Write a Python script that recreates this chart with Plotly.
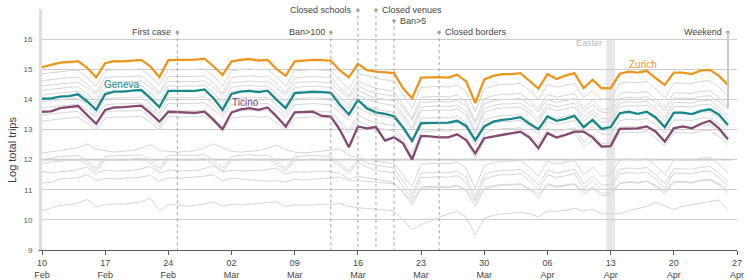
import plotly.graph_objects as go
import pandas as pd

# ---------------- data ----------------
start_date = "2020-02-10"
end_date = "2020-04-26"

zurich = [15.07, 15.15, 15.22, 15.24, 15.27, 15.05, 14.73,
          15.20, 15.27, 15.26, 15.28, 15.31, 15.10, 14.74,
          15.30, 15.31, 15.30, 15.32, 15.35, 15.10, 14.81,
          15.26, 15.31, 15.34, 15.29, 15.31, 15.00, 14.78,
          15.26, 15.28, 15.31, 15.30, 15.29, 14.96, 14.73,
          15.18, 14.97, 14.92, 14.90, 14.87, 14.37, 14.04,
          14.72, 14.74, 14.74, 14.72, 14.82, 14.59, 13.88,
          14.66, 14.78, 14.84, 14.84, 14.87, 14.61, 14.36,
          14.84, 14.68, 14.79, 14.87, 14.37, 14.65, 14.37,
          14.37, 14.85, 14.92, 14.89, 14.95, 14.70, 14.48,
          14.89, 14.89, 14.84, 14.96, 14.98, 14.78, 14.48]

geneva = [14.02, 14.03, 14.09, 14.11, 14.17, 13.93, 13.65,
          14.17, 14.26, 14.26, 14.29, 14.31, 14.04, 13.74,
          14.28, 14.28, 14.26, 14.28, 14.33, 14.04, 13.65,
          14.18, 14.26, 14.28, 14.24, 14.29, 13.98, 13.71,
          14.21, 14.23, 14.25, 14.24, 14.22, 13.82, 13.50,
          13.98, 13.70, 13.57, 13.52, 13.44, 13.07, 12.62,
          13.21, 13.22, 13.23, 13.23, 13.29, 13.12, 12.65,
          13.10, 13.26, 13.32, 13.35, 13.41, 13.19, 13.01,
          13.43, 13.29, 13.35, 13.45, 13.08, 13.32, 13.02,
          13.08, 13.54, 13.59, 13.52, 13.59, 13.40, 13.08,
          13.56, 13.56, 13.51, 13.62, 13.67, 13.49, 13.15]

ticino = [13.59, 13.60, 13.71, 13.74, 13.78, 13.48, 13.19,
          13.65, 13.73, 13.74, 13.76, 13.79, 13.54, 13.26,
          13.59, 13.58, 13.55, 13.55, 13.59, 13.32, 13.01,
          13.57, 13.67, 13.71, 13.65, 13.73, 13.43, 13.10,
          13.57, 13.59, 13.59, 13.45, 13.43, 12.99, 12.41,
          13.10, 13.04, 13.08, 12.63, 12.74, 12.54, 12.00,
          12.79, 12.77, 12.74, 12.74, 12.84, 12.65, 12.21,
          12.71, 12.76, 12.82, 12.88, 12.93, 12.74, 12.38,
          12.88, 12.73, 12.82, 12.93, 12.93, 12.74, 12.43,
          12.45, 13.02, 13.02, 13.04, 13.10, 12.93, 12.60,
          13.04, 13.10, 13.04, 13.19, 13.29, 13.04, 12.68]

other_u1 = [14.85, 14.89, 14.93, 14.95, 14.97, 14.73, 14.45,
            14.95, 14.98, 14.98, 14.99, 15.01, 14.77, 14.47,
            14.99, 14.99, 14.98, 14.99, 15.02, 14.77, 14.43,
            14.95, 14.99, 15.01, 14.98, 15.00, 14.75, 14.45,
            14.95, 14.97, 14.99, 14.97, 14.95, 14.63, 14.35,
            14.85, 14.80, 14.70, 14.65, 14.60, 14.15, 13.70,
            14.40, 14.42, 14.43, 14.41, 14.47, 14.25, 13.60,
            14.35, 14.45, 14.50, 14.50, 14.53, 14.30, 14.00,
            14.50, 14.40, 14.47, 14.53, 14.05, 14.30, 14.00,
            14.03, 14.53, 14.57, 14.55, 14.59, 14.35, 14.05,
            14.55, 14.55, 14.53, 14.60, 14.62, 14.40, 14.10]

other_u2 = [14.62, 14.66, 14.70, 14.72, 14.74, 14.50, 14.22,
            14.72, 14.75, 14.75, 14.76, 14.78, 14.54, 14.24,
            14.76, 14.76, 14.75, 14.76, 14.79, 14.54, 14.20,
            14.72, 14.76, 14.78, 14.75, 14.77, 14.52, 14.22,
            14.72, 14.74, 14.76, 14.74, 14.72, 14.40, 14.12,
            14.62, 14.47, 14.37, 14.32, 14.27, 13.82, 13.37,
            14.07, 14.09, 14.10, 14.08, 14.14, 13.92, 13.27,
            14.02, 14.12, 14.17, 14.17, 14.20, 13.97, 13.67,
            14.17, 14.07, 14.14, 14.20, 13.72, 13.97, 13.67,
            13.70, 14.20, 14.24, 14.22, 14.26, 14.02, 13.72,
            14.22, 14.22, 14.20, 14.27, 14.29, 14.07, 13.77]

other_u3 = [14.45, 14.48, 14.52, 14.55, 14.57, 14.38, 14.15,
            14.55, 14.58, 14.58, 14.59, 14.61, 14.40, 14.17,
            14.59, 14.59, 14.58, 14.59, 14.62, 14.40, 14.15,
            14.55, 14.59, 14.61, 14.58, 14.60, 14.38, 14.15,
            14.55, 14.57, 14.59, 14.57, 14.55, 14.28, 14.05,
            14.45, 14.30, 14.20, 14.15, 14.10, 13.70, 13.30,
            13.90, 13.92, 13.93, 13.91, 13.97, 13.78, 13.20,
            13.85, 13.95, 14.00, 14.00, 14.03, 13.83, 13.58,
            14.00, 13.90, 13.97, 14.03, 13.60, 13.82, 13.58,
            13.55, 14.03, 14.07, 14.05, 14.09, 13.88, 13.62,
            14.05, 14.05, 14.03, 14.10, 14.12, 13.93, 13.68]

other_u4 = [14.30, 14.34, 14.38, 14.40, 14.42, 14.18, 13.90,
            14.40, 14.43, 14.43, 14.44, 14.46, 14.22, 13.92,
            14.44, 14.44, 14.43, 14.44, 14.47, 14.22, 13.88,
            14.40, 14.44, 14.46, 14.43, 14.45, 14.20, 13.90,
            14.40, 14.42, 14.44, 14.42, 14.40, 14.08, 13.80,
            14.30, 14.15, 14.05, 14.00, 13.95, 13.50, 13.05,
            13.75, 13.77, 13.78, 13.76, 13.82, 13.60, 12.95,
            13.70, 13.80, 13.85, 13.85, 13.88, 13.65, 13.35,
            13.85, 13.75, 13.82, 13.88, 13.40, 13.65, 13.35,
            13.38, 13.88, 13.92, 13.90, 13.94, 13.70, 13.40,
            13.90, 13.90, 13.88, 13.95, 13.97, 13.75, 13.45]

other_u5 = [14.15, 14.18, 14.22, 14.25, 14.27, 14.05, 13.80,
            14.25, 14.28, 14.28, 14.29, 14.31, 14.08, 13.82,
            14.29, 14.29, 14.28, 14.29, 14.32, 14.08, 13.78,
            14.25, 14.29, 14.31, 14.28, 14.30, 14.06, 13.80,
            14.25, 14.27, 14.29, 14.27, 14.25, 13.95, 13.68,
            14.15, 14.00, 13.90, 13.85, 13.80, 13.38, 12.95,
            13.62, 13.64, 13.65, 13.63, 13.69, 13.48, 12.85,
            13.57, 13.67, 13.72, 13.72, 13.75, 13.53, 13.23,
            13.72, 13.62, 13.69, 13.75, 13.28, 13.52, 13.23,
            13.26, 13.75, 13.79, 13.77, 13.81, 13.58, 13.28,
            13.77, 13.77, 13.75, 13.82, 13.84, 13.62, 13.33]

other_m1 = [13.92, 13.96, 14.00, 14.02, 14.04, 13.80, 13.52,
            14.02, 14.05, 14.05, 14.06, 14.08, 13.84, 13.54,
            14.06, 14.06, 14.05, 14.06, 14.09, 13.84, 13.50,
            14.02, 14.06, 14.08, 14.05, 14.07, 13.82, 13.52,
            14.02, 14.04, 14.06, 14.04, 14.02, 13.70, 13.42,
            13.92, 13.77, 13.67, 13.62, 13.57, 13.12, 12.67,
            13.37, 13.39, 13.40, 13.38, 13.44, 13.22, 12.57,
            13.32, 13.42, 13.47, 13.47, 13.50, 13.27, 12.97,
            13.47, 13.37, 13.44, 13.50, 13.02, 13.27, 12.97,
            13.00, 13.50, 13.54, 13.52, 13.56, 13.32, 13.02,
            13.52, 13.52, 13.50, 13.57, 13.59, 13.37, 13.07]

other_m2 = [13.72, 13.75, 13.79, 13.82, 13.84, 13.65, 13.42,
            13.82, 13.85, 13.85, 13.86, 13.88, 13.67, 13.44,
            13.86, 13.86, 13.85, 13.86, 13.89, 13.67, 13.42,
            13.82, 13.86, 13.88, 13.85, 13.87, 13.65, 13.42,
            13.82, 13.84, 13.86, 13.84, 13.82, 13.55, 13.32,
            13.72, 13.57, 13.47, 13.42, 13.37, 12.97, 12.57,
            13.17, 13.19, 13.20, 13.18, 13.24, 13.05, 12.47,
            13.12, 13.22, 13.27, 13.27, 13.30, 13.10, 12.85,
            13.27, 13.17, 13.24, 13.30, 12.87, 13.09, 12.85,
            12.82, 13.30, 13.34, 13.32, 13.36, 13.15, 12.89,
            13.32, 13.32, 13.30, 13.37, 13.39, 13.20, 12.95]

other_m3 = [13.48, 13.52, 13.56, 13.58, 13.60, 13.36, 13.08,
            13.58, 13.61, 13.61, 13.62, 13.64, 13.40, 13.10,
            13.62, 13.62, 13.61, 13.62, 13.65, 13.40, 13.06,
            13.58, 13.62, 13.64, 13.61, 13.63, 13.38, 13.08,
            13.58, 13.60, 13.62, 13.60, 13.58, 13.26, 12.98,
            13.48, 13.33, 13.23, 13.18, 13.13, 12.68, 12.23,
            12.93, 12.95, 12.96, 12.94, 13.00, 12.78, 12.13,
            12.88, 12.98, 13.03, 13.03, 13.06, 12.83, 12.53,
            13.03, 12.93, 13.00, 13.06, 12.58, 12.83, 12.53,
            12.56, 13.06, 13.10, 13.08, 13.12, 12.88, 12.58,
            13.08, 13.08, 13.06, 13.13, 13.15, 12.93, 12.63]

other_m4 = [13.28, 13.32, 13.36, 13.38, 13.40, 13.22, 12.98,
            13.38, 13.41, 13.41, 13.42, 13.44, 13.25, 13.00,
            13.42, 13.42, 13.41, 13.42, 13.45, 13.25, 12.98,
            13.38, 13.42, 13.44, 13.41, 13.43, 13.22, 12.98,
            13.38, 13.40, 13.42, 13.40, 13.38, 13.12, 12.88,
            13.28, 13.15, 13.05, 13.00, 12.95, 12.55, 12.10,
            12.75, 12.77, 12.78, 12.76, 12.82, 12.62, 12.00,
            12.70, 12.80, 12.85, 12.85, 12.88, 12.68, 12.40,
            12.85, 12.75, 12.82, 12.88, 12.42, 12.65, 12.40,
            12.40, 12.88, 12.92, 12.90, 12.94, 12.72, 12.45,
            12.90, 12.90, 12.88, 12.95, 12.97, 12.77, 12.50]

other_l1 = [12.22, 12.25, 12.30, 12.35, 12.40, 12.52, 12.35,
            12.30, 12.25, 12.28, 12.30, 12.38, 12.50, 12.30,
            12.28, 12.25, 12.27, 12.30, 12.40, 12.52, 12.40,
            12.28, 12.25, 12.27, 12.30, 12.38, 12.48, 12.32,
            12.25, 12.22, 12.25, 12.28, 12.30, 12.35, 12.15,
            12.05, 12.00, 11.95, 11.90, 11.88, 11.50, 11.10,
            11.85, 11.87, 11.88, 11.86, 11.92, 11.70, 11.05,
            11.80, 11.90, 11.95, 11.95, 11.98, 11.75, 11.45,
            11.95, 11.85, 11.92, 11.98, 11.50, 11.75, 11.45,
            11.48, 11.98, 12.02, 12.00, 12.04, 11.80, 11.50,
            12.00, 12.00, 11.98, 12.05, 12.07, 11.85, 11.55]

other_l2 = [12.00, 12.05, 12.10, 12.12, 12.14, 11.95, 11.70,
            12.10, 12.13, 12.13, 12.14, 12.16, 11.98, 11.72,
            12.14, 12.14, 12.13, 12.14, 12.17, 11.98, 11.70,
            12.10, 12.14, 12.16, 12.13, 12.15, 11.95, 11.70,
            12.10, 12.12, 12.14, 12.12, 12.10, 11.88, 11.62,
            12.02, 11.90, 11.82, 11.78, 11.72, 11.30, 10.85,
            11.55, 11.57, 11.58, 11.56, 11.62, 11.40, 10.78,
            11.50, 11.60, 11.65, 11.65, 11.68, 11.45, 11.15,
            11.65, 11.55, 11.62, 11.68, 11.20, 11.45, 11.15,
            11.18, 11.68, 11.72, 11.70, 11.74, 11.50, 11.20,
            11.70, 11.70, 11.68, 11.75, 11.77, 11.55, 11.25]

other_l3 = [11.88, 11.92, 11.95, 11.98, 12.00, 11.85, 11.62,
            11.98, 12.00, 11.98, 12.02, 12.05, 11.88, 11.62,
            12.02, 12.00, 11.98, 12.00, 12.04, 11.86, 11.60,
            11.98, 12.00, 12.02, 12.00, 12.02, 11.85, 11.62,
            11.98, 12.00, 12.02, 12.00, 11.98, 11.78, 11.55,
            11.90, 11.75, 11.65, 11.60, 11.55, 11.10, 10.70,
            11.40, 11.42, 11.43, 11.41, 11.47, 11.25, 10.65,
            11.35, 11.45, 11.50, 11.50, 11.53, 11.30, 11.00,
            11.50, 11.40, 11.47, 11.53, 11.05, 11.30, 11.00,
            11.03, 11.53, 11.57, 11.55, 11.59, 11.35, 11.05,
            11.55, 11.55, 11.53, 11.60, 11.62, 11.40, 11.10]

other_l4 = [11.62, 11.55, 11.60, 11.62, 11.68, 11.75, 11.55,
            11.65, 11.62, 11.63, 11.64, 11.70, 11.78, 11.55,
            11.66, 11.62, 11.63, 11.64, 11.70, 11.80, 11.60,
            11.65, 11.62, 11.64, 11.63, 11.68, 11.72, 11.52,
            11.60, 11.58, 11.60, 11.62, 11.60, 11.55, 11.35,
            11.45, 11.40, 11.35, 11.30, 11.25, 10.90, 10.50,
            11.05, 11.07, 11.08, 11.06, 11.12, 10.95, 10.45,
            11.02, 11.10, 11.15, 11.15, 11.18, 11.00, 10.75,
            11.15, 11.08, 11.12, 11.18, 10.85, 11.05, 10.80,
            10.85, 11.20, 11.25, 11.22, 11.28, 11.10, 10.85,
            11.25, 11.25, 11.22, 11.30, 11.32, 11.15, 10.90]

other_l5 = [11.22, 11.25, 11.35, 11.38, 11.40, 11.50, 11.30,
            11.38, 11.36, 11.38, 11.40, 11.42, 11.48, 11.28,
            11.40, 11.38, 11.40, 11.42, 11.45, 11.50, 11.30,
            11.38, 11.35, 11.32, 11.30, 11.28, 11.30, 11.25,
            11.35, 11.32, 11.35, 11.38, 11.40, 11.42, 11.30,
            11.30, 11.28, 11.25, 11.22, 11.20, 10.95, 10.60,
            11.10, 11.12, 11.12, 11.10, 11.15, 11.00, 10.60,
            11.10, 11.15, 11.18, 11.18, 11.20, 11.05, 10.85,
            11.20, 11.12, 11.16, 11.20, 10.95, 11.10, 10.88,
            10.92, 11.22, 11.26, 11.24, 11.28, 11.15, 10.95,
            11.28, 11.28, 11.25, 11.32, 11.35, 11.20, 10.98]

other_l6 = [10.31, 10.40, 10.48, 10.50, 10.55, 10.68, 10.44,
            10.50, 10.53, 10.52, 10.55, 10.60, 10.72, 10.31,
            10.50, 10.50, 10.45, 10.48, 10.52, 10.60, 10.45,
            10.52, 10.50, 10.52, 10.55, 10.58, 10.60, 10.45,
            10.50, 10.48, 10.50, 10.52, 10.50, 10.55, 10.45,
            10.40, 10.38, 10.35, 10.33, 10.30, 10.00, 9.68,
            9.85, 9.95, 10.10, 10.20, 10.28, 10.10, 9.50,
            10.05, 10.15, 10.20, 10.22, 10.25, 10.20, 10.10,
            10.30, 10.28, 10.32, 10.38, 10.30, 10.35, 10.22,
            10.20, 10.20, 10.30, 10.38, 10.45, 10.57, 10.45,
            10.35, 10.45, 10.50, 10.55, 10.60, 10.66, 10.31]

event_labels = ["First case", "Ban>100", "Closed schools", "Closed venues",
                "Ban>5", "Closed borders", "Weekend"]
event_dates = ["2020-02-25", "2020-03-13", "2020-03-16", "2020-03-18",
               "2020-03-20", "2020-03-25", "2020-04-26"]

tick_dates = ["2020-02-10", "2020-02-17", "2020-02-24", "2020-03-02", "2020-03-09",
              "2020-03-16", "2020-03-23", "2020-03-30", "2020-04-06", "2020-04-13",
              "2020-04-20", "2020-04-27"]
tick_text = ["10<br>Feb", "17<br>Feb", "24<br>Feb", "02<br>Mar", "09<br>Mar",
             "16<br>Mar", "23<br>Mar", "30<br>Mar", "06<br>Apr", "13<br>Apr",
             "20<br>Apr", "27<br>Apr"]
y_ticks = [9, 10, 11, 12, 13, 14, 15, 16]

# ---------------- styling (positions of labels) ----------------
event_heights = [16.23, 16.23, 16.97, 16.97, 16.61, 16.23, 16.23]
event_sides = ["right", "right", "right", "left", "left", "left", "right"]

FONT = "Liberation Sans, Arial, Helvetica, sans-serif"
GREY_LINE = "rgb(214,214,214)"
C_ZH = "rgb(236,150,30)"
C_GE = "rgb(24,136,140)"
C_TI = "rgb(134,72,112)"

dates = pd.date_range(start_date, end_date, freq="D")

fig = go.Figure()

others = [other_u1, other_u2, other_u3, other_u4, other_u5,
          other_m1, other_m2, other_m3, other_m4,
          other_l1, other_l2, other_l3, other_l4, other_l5, other_l6]
for series in others:
    fig.add_trace(go.Scatter(x=dates, y=series, mode="lines",
                             line=dict(color=GREY_LINE, width=1),
                             hoverinfo="skip", showlegend=False))

for series, col, name in [(ticino, C_TI, "Ticino"), (geneva, C_GE, "Geneva"),
                          (zurich, C_ZH, "Zurich")]:
    fig.add_trace(go.Scatter(x=dates, y=series, mode="lines", name=name,
                             line=dict(color=col, width=2.3),
                             showlegend=False))

shapes = []
# Easter band
shapes.append(dict(type="rect", xref="x", yref="y",
                   x0="2020-04-12 12:00", x1="2020-04-13 12:00", y0=9, y1=16,
                   fillcolor="rgb(232,232,232)", line=dict(width=0), layer="below"))
# slightly heavier 12 line
shapes.append(dict(type="line", xref="paper", yref="y", x0=0, x1=0.993, y0=12, y1=12,
                   line=dict(color="rgb(226,226,226)", width=2.5), layer="below"))

annotations = []
for lab, d, h, side in zip(event_labels, event_dates, event_heights, event_sides):
    if lab == "Weekend":
        shapes.append(dict(type="line", xref="x", yref="y", x0=d, x1=d, y0=h, y1=13.72,
                           line=dict(color="rgb(200,200,200)", width=2), layer="above"))
    else:
        shapes.append(dict(type="line", xref="x", yref="y", x0=d, x1=d, y0=h, y1=9,
                           line=dict(color="rgb(160,160,160)", width=1, dash="dot"),
                           layer="above"))
    annotations.append(dict(x=d, y=h, xref="x", yref="y", text=lab, showarrow=False,
                            xanchor="right" if side == "right" else "left",
                            yanchor="middle",
                            xshift=-4 if side == "right" else 4,
                            font=dict(family=FONT, size=9, color="rgb(70,70,70)")))

fig.add_trace(go.Scatter(x=event_dates, y=event_heights, mode="markers",
                         marker=dict(color="rgb(160,160,160)", size=3.5),
                         hoverinfo="skip", showlegend=False, cliponaxis=False))

annotations.append(dict(x="2020-04-12 06:00", y=15.87, xref="x", yref="y", text="Easter",
                        showarrow=False, xanchor="right", yanchor="middle",
                        font=dict(family=FONT, size=9, color="rgb(185,185,185)")))

# series labels
annotations.append(dict(x="2020-04-16 14:00", y=15.15, xref="x", yref="y", text="Zurich",
                        showarrow=False, xanchor="center", yanchor="middle",
                        font=dict(family=FONT, size=10, color=C_ZH)))
annotations.append(dict(x="2020-02-18 19:00", y=14.48, xref="x", yref="y", text="Geneva",
                        showarrow=False, xanchor="center", yanchor="middle",
                        font=dict(family=FONT, size=10, color=C_GE)))
annotations.append(dict(x="2020-03-03 14:00", y=13.89, xref="x", yref="y", text="Ticino",
                        showarrow=False, xanchor="center", yanchor="middle",
                        font=dict(family=FONT, size=10, color=C_TI)))

# y axis title
annotations.append(dict(x=-0.043, y=0.415, xref="paper", yref="paper",
                        text="Log total trips", textangle=-90, showarrow=False,
                        xanchor="center", yanchor="middle",
                        font=dict(family=FONT, size=11, color="rgb(60,60,60)")))

fig.update_layout(
    width=747, height=280,
    margin=dict(l=42, r=10, t=9, b=30, autoexpand=False),
    paper_bgcolor="white", plot_bgcolor="white",
    font=dict(family=FONT, size=9, color="rgb(70,70,70)"),
    shapes=shapes, annotations=annotations,
    showlegend=False,
    xaxis=dict(type="date", range=["2020-02-10", "2020-04-27"],
               tickvals=tick_dates, ticktext=tick_text, automargin=False,
               showgrid=False, zeroline=False,
               showline=True, linecolor="rgb(90,90,90)", linewidth=1,
               ticks="outside", ticklen=4, tickcolor="rgb(90,90,90)",
               tickfont=dict(family=FONT, size=9, color="rgb(70,70,70)")),
    yaxis=dict(range=[9, 17], tickvals=y_ticks, showgrid=True, automargin=False,
               gridcolor="rgb(205,205,205)", gridwidth=1, zeroline=False,
               showline=True, linecolor="rgb(222,222,222)", linewidth=3,
               ticks="", ticklabelstandoff=5,
               tickfont=dict(family=FONT, size=8, color="rgb(90,90,90)")),
)

fig.write_html("out.html",
               config={"displayModeBar": False},
               post_script="document.body.style.margin='0px';"
                           "document.body.style.overflow='hidden';")
